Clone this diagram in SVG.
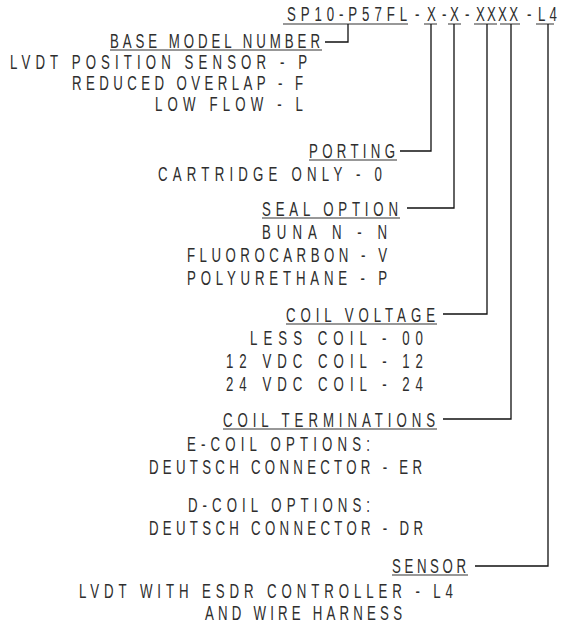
<svg xmlns="http://www.w3.org/2000/svg" width="564" height="630" viewBox="0 0 564 630">
<style>
text{font-family:"Liberation Sans",Arial,sans-serif;font-size:19.5px;fill:#2e2e2e}
.ul{stroke:#333;stroke-width:1.2;fill:none}
.c{stroke:#111;stroke-width:1.3;fill:none}
</style>
<rect width="564" height="630" fill="#fff"/>
<g id="model">
<text transform="translate(287,21) scale(0.68,1)" textLength="176.5" lengthAdjust="spacing">SP10-P57FL</text>
<text transform="translate(415,21) scale(0.68,1)">-</text>
<text transform="translate(427,21) scale(0.68,1)">X</text>
<text transform="translate(442,21) scale(0.68,1)">-</text>
<text transform="translate(450,21) scale(0.68,1)">X</text>
<text transform="translate(465,21) scale(0.68,1)">-</text>
<text transform="translate(476,21) scale(0.68,1)" textLength="61.8" lengthAdjust="spacing">XXXX</text>
<text transform="translate(527,21) scale(0.68,1)">-</text>
<text transform="translate(538,21) scale(0.68,1)" textLength="27.9" lengthAdjust="spacing">L4</text>
<path class="ul" d="M283 24H408M424 24H437M448 24H461M474 24H497M500 24H520M536 24H554"/>
</g>
<g id="base">
<text transform="translate(110,48) scale(0.68,1)" textLength="308.8" lengthAdjust="spacing">BASE MODEL NUMBER</text>
<path class="ul" d="M110 50H322"/>
<text transform="translate(10,69) scale(0.68,1)" textLength="436.8" lengthAdjust="spacing">LVDT POSITION SENSOR - P</text>
<text transform="translate(72,90) scale(0.68,1)" textLength="339.7" lengthAdjust="spacing">REDUCED OVERLAP - F</text>
<text transform="translate(155,111) scale(0.68,1)" textLength="217.6" lengthAdjust="spacing">LOW FLOW - L</text>
</g>
<g id="porting">
<text transform="translate(309,158) scale(0.68,1)" textLength="126.5" lengthAdjust="spacing">PORTING</text>
<path class="ul" d="M309 160H397"/>
<text transform="translate(158,181) scale(0.68,1)" textLength="329.4" lengthAdjust="spacing">CARTRIDGE ONLY - 0</text>
</g>
<g id="seal">
<text transform="translate(262,216) scale(0.68,1)" textLength="200" lengthAdjust="spacing">SEAL OPTION</text>
<path class="ul" d="M262 218H400"/>
<text transform="translate(262,239) scale(0.68,1)" textLength="183.8" lengthAdjust="spacing">BUNA N - N</text>
<text transform="translate(187,262) scale(0.68,1)" textLength="294.1" lengthAdjust="spacing">FLUOROCARBON - V</text>
<text transform="translate(187,285) scale(0.68,1)" textLength="294.1" lengthAdjust="spacing">POLYURETHANE - P</text>
</g>
<g id="voltage">
<text transform="translate(286,322) scale(0.68,1)" textLength="219.1" lengthAdjust="spacing">COIL VOLTAGE</text>
<path class="ul" d="M286 324H437"/>
<text transform="translate(250,345) scale(0.68,1)" textLength="254.4" lengthAdjust="spacing">LESS COIL - 00</text>
<text transform="translate(226,368) scale(0.68,1)" textLength="289.7" lengthAdjust="spacing">12 VDC COIL - 12</text>
<text transform="translate(226,391) scale(0.68,1)" textLength="289.7" lengthAdjust="spacing">24 VDC COIL - 24</text>
</g>
<g id="terminations">
<text transform="translate(223,427) scale(0.68,1)" textLength="311.8" lengthAdjust="spacing">COIL TERMINATIONS</text>
<path class="ul" d="M223 429H437"/>
<text transform="translate(187,451) scale(0.68,1)" textLength="269.1" lengthAdjust="spacing">E-COIL OPTIONS:</text>
<text transform="translate(149,474) scale(0.68,1)" textLength="401.5" lengthAdjust="spacing">DEUTSCH CONNECTOR - ER</text>
<text transform="translate(188,512) scale(0.68,1)" textLength="267.6" lengthAdjust="spacing">D-COIL OPTIONS:</text>
<text transform="translate(149,535) scale(0.68,1)" textLength="402.9" lengthAdjust="spacing">DEUTSCH CONNECTOR - DR</text>
</g>
<g id="sensor">
<text transform="translate(392,573) scale(0.68,1)" textLength="108.8" lengthAdjust="spacing">SENSOR</text>
<path class="ul" d="M392 575H468"/>
<text transform="translate(79,598) scale(0.68,1)" textLength="550" lengthAdjust="spacing">LVDT WITH ESDR CONTROLLER - L4</text>
<text transform="translate(205,620) scale(0.68,1)" textLength="289.7" lengthAdjust="spacing">AND WIRE HARNESS</text>
</g>
<g id="connectors">
<polyline class="c" points="325,42 348,42 348,24"/>
<polyline class="c" points="400,151 431,151 431,24"/>
<polyline class="c" points="407,208 454,208 454,24"/>
<polyline class="c" points="443,314 487,314 487,24"/>
<polyline class="c" points="443,419 511,419 511,24"/>
<polyline class="c" points="475,566 548,566 548,24"/>
</g>
</svg>
